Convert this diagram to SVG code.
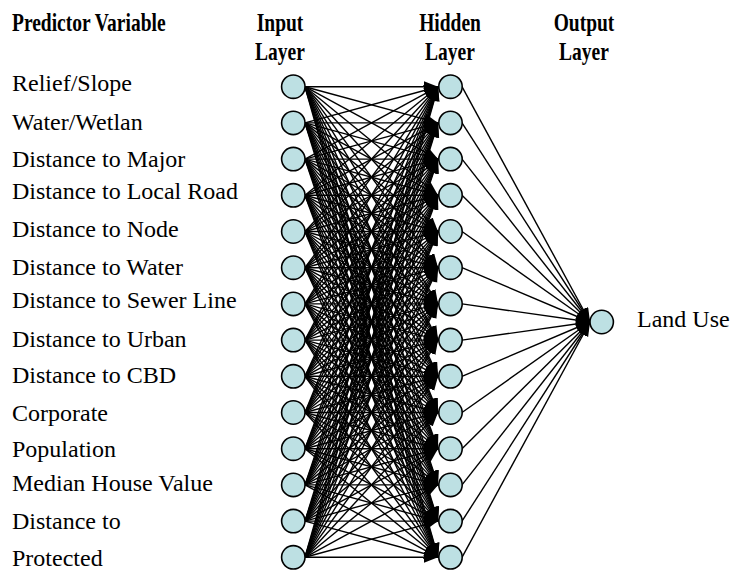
<svg xmlns="http://www.w3.org/2000/svg" width="740" height="571" viewBox="0 0 740 571">
<style>
text{font-family:"Liberation Serif","Times New Roman",serif;fill:#000}
.hd{font-size:25px;font-weight:bold}
.lb{font-size:24px}
.nd{fill:#bde0e3;stroke:#000;stroke-width:1.6}
#connectors line{stroke:#000;stroke-width:1.4;marker-end:url(#ah)}
</style>
<defs>
<marker id="ah" markerUnits="userSpaceOnUse" markerWidth="15" markerHeight="12" refX="14" refY="5.5" orient="auto"><path d="M0,0 L14,5.5 L0,11 z" fill="#000"/></marker>
</defs>
<rect width="740" height="571" fill="#fff"/>
<g id="headers">
<text class="hd" transform="translate(12,31) scale(0.78,1)">Predictor Variable</text>
<text class="hd" transform="translate(280,31) scale(0.78,1)" text-anchor="middle">Input</text>
<text class="hd" transform="translate(280,60) scale(0.78,1)" text-anchor="middle">Layer</text>
<text class="hd" transform="translate(450,31) scale(0.78,1)" text-anchor="middle">Hidden</text>
<text class="hd" transform="translate(450,60) scale(0.78,1)" text-anchor="middle">Layer</text>
<text class="hd" transform="translate(584,31) scale(0.78,1)" text-anchor="middle">Output</text>
<text class="hd" transform="translate(584,60) scale(0.78,1)" text-anchor="middle">Layer</text>
</g>
<g id="connectors">
<line x1="305" y1="86.7" x2="438" y2="86.7"/><line x1="305" y1="86.7" x2="438" y2="122.9"/><line x1="305" y1="86.7" x2="438" y2="159.1"/><line x1="305" y1="86.7" x2="438" y2="195.3"/><line x1="305" y1="86.7" x2="438" y2="231.5"/><line x1="305" y1="86.7" x2="438" y2="267.7"/><line x1="305" y1="86.7" x2="438" y2="303.9"/><line x1="305" y1="86.7" x2="438" y2="340.1"/><line x1="305" y1="86.7" x2="438" y2="376.3"/><line x1="305" y1="86.7" x2="438" y2="412.5"/><line x1="305" y1="86.7" x2="438" y2="448.7"/><line x1="305" y1="86.7" x2="438" y2="484.9"/><line x1="305" y1="86.7" x2="438" y2="521.1"/><line x1="305" y1="86.7" x2="438" y2="557.3"/>
<line x1="305" y1="122.9" x2="438" y2="86.7"/><line x1="305" y1="122.9" x2="438" y2="122.9"/><line x1="305" y1="122.9" x2="438" y2="159.1"/><line x1="305" y1="122.9" x2="438" y2="195.3"/><line x1="305" y1="122.9" x2="438" y2="231.5"/><line x1="305" y1="122.9" x2="438" y2="267.7"/><line x1="305" y1="122.9" x2="438" y2="303.9"/><line x1="305" y1="122.9" x2="438" y2="340.1"/><line x1="305" y1="122.9" x2="438" y2="376.3"/><line x1="305" y1="122.9" x2="438" y2="412.5"/><line x1="305" y1="122.9" x2="438" y2="448.7"/><line x1="305" y1="122.9" x2="438" y2="484.9"/><line x1="305" y1="122.9" x2="438" y2="521.1"/><line x1="305" y1="122.9" x2="438" y2="557.3"/>
<line x1="305" y1="159.1" x2="438" y2="86.7"/><line x1="305" y1="159.1" x2="438" y2="122.9"/><line x1="305" y1="159.1" x2="438" y2="159.1"/><line x1="305" y1="159.1" x2="438" y2="195.3"/><line x1="305" y1="159.1" x2="438" y2="231.5"/><line x1="305" y1="159.1" x2="438" y2="267.7"/><line x1="305" y1="159.1" x2="438" y2="303.9"/><line x1="305" y1="159.1" x2="438" y2="340.1"/><line x1="305" y1="159.1" x2="438" y2="376.3"/><line x1="305" y1="159.1" x2="438" y2="412.5"/><line x1="305" y1="159.1" x2="438" y2="448.7"/><line x1="305" y1="159.1" x2="438" y2="484.9"/><line x1="305" y1="159.1" x2="438" y2="521.1"/><line x1="305" y1="159.1" x2="438" y2="557.3"/>
<line x1="305" y1="195.3" x2="438" y2="86.7"/><line x1="305" y1="195.3" x2="438" y2="122.9"/><line x1="305" y1="195.3" x2="438" y2="159.1"/><line x1="305" y1="195.3" x2="438" y2="195.3"/><line x1="305" y1="195.3" x2="438" y2="231.5"/><line x1="305" y1="195.3" x2="438" y2="267.7"/><line x1="305" y1="195.3" x2="438" y2="303.9"/><line x1="305" y1="195.3" x2="438" y2="340.1"/><line x1="305" y1="195.3" x2="438" y2="376.3"/><line x1="305" y1="195.3" x2="438" y2="412.5"/><line x1="305" y1="195.3" x2="438" y2="448.7"/><line x1="305" y1="195.3" x2="438" y2="484.9"/><line x1="305" y1="195.3" x2="438" y2="521.1"/><line x1="305" y1="195.3" x2="438" y2="557.3"/>
<line x1="305" y1="231.5" x2="438" y2="86.7"/><line x1="305" y1="231.5" x2="438" y2="122.9"/><line x1="305" y1="231.5" x2="438" y2="159.1"/><line x1="305" y1="231.5" x2="438" y2="195.3"/><line x1="305" y1="231.5" x2="438" y2="231.5"/><line x1="305" y1="231.5" x2="438" y2="267.7"/><line x1="305" y1="231.5" x2="438" y2="303.9"/><line x1="305" y1="231.5" x2="438" y2="340.1"/><line x1="305" y1="231.5" x2="438" y2="376.3"/><line x1="305" y1="231.5" x2="438" y2="412.5"/><line x1="305" y1="231.5" x2="438" y2="448.7"/><line x1="305" y1="231.5" x2="438" y2="484.9"/><line x1="305" y1="231.5" x2="438" y2="521.1"/><line x1="305" y1="231.5" x2="438" y2="557.3"/>
<line x1="305" y1="267.7" x2="438" y2="86.7"/><line x1="305" y1="267.7" x2="438" y2="122.9"/><line x1="305" y1="267.7" x2="438" y2="159.1"/><line x1="305" y1="267.7" x2="438" y2="195.3"/><line x1="305" y1="267.7" x2="438" y2="231.5"/><line x1="305" y1="267.7" x2="438" y2="267.7"/><line x1="305" y1="267.7" x2="438" y2="303.9"/><line x1="305" y1="267.7" x2="438" y2="340.1"/><line x1="305" y1="267.7" x2="438" y2="376.3"/><line x1="305" y1="267.7" x2="438" y2="412.5"/><line x1="305" y1="267.7" x2="438" y2="448.7"/><line x1="305" y1="267.7" x2="438" y2="484.9"/><line x1="305" y1="267.7" x2="438" y2="521.1"/><line x1="305" y1="267.7" x2="438" y2="557.3"/>
<line x1="305" y1="303.9" x2="438" y2="86.7"/><line x1="305" y1="303.9" x2="438" y2="122.9"/><line x1="305" y1="303.9" x2="438" y2="159.1"/><line x1="305" y1="303.9" x2="438" y2="195.3"/><line x1="305" y1="303.9" x2="438" y2="231.5"/><line x1="305" y1="303.9" x2="438" y2="267.7"/><line x1="305" y1="303.9" x2="438" y2="303.9"/><line x1="305" y1="303.9" x2="438" y2="340.1"/><line x1="305" y1="303.9" x2="438" y2="376.3"/><line x1="305" y1="303.9" x2="438" y2="412.5"/><line x1="305" y1="303.9" x2="438" y2="448.7"/><line x1="305" y1="303.9" x2="438" y2="484.9"/><line x1="305" y1="303.9" x2="438" y2="521.1"/><line x1="305" y1="303.9" x2="438" y2="557.3"/>
<line x1="305" y1="340.1" x2="438" y2="86.7"/><line x1="305" y1="340.1" x2="438" y2="122.9"/><line x1="305" y1="340.1" x2="438" y2="159.1"/><line x1="305" y1="340.1" x2="438" y2="195.3"/><line x1="305" y1="340.1" x2="438" y2="231.5"/><line x1="305" y1="340.1" x2="438" y2="267.7"/><line x1="305" y1="340.1" x2="438" y2="303.9"/><line x1="305" y1="340.1" x2="438" y2="340.1"/><line x1="305" y1="340.1" x2="438" y2="376.3"/><line x1="305" y1="340.1" x2="438" y2="412.5"/><line x1="305" y1="340.1" x2="438" y2="448.7"/><line x1="305" y1="340.1" x2="438" y2="484.9"/><line x1="305" y1="340.1" x2="438" y2="521.1"/><line x1="305" y1="340.1" x2="438" y2="557.3"/>
<line x1="305" y1="376.3" x2="438" y2="86.7"/><line x1="305" y1="376.3" x2="438" y2="122.9"/><line x1="305" y1="376.3" x2="438" y2="159.1"/><line x1="305" y1="376.3" x2="438" y2="195.3"/><line x1="305" y1="376.3" x2="438" y2="231.5"/><line x1="305" y1="376.3" x2="438" y2="267.7"/><line x1="305" y1="376.3" x2="438" y2="303.9"/><line x1="305" y1="376.3" x2="438" y2="340.1"/><line x1="305" y1="376.3" x2="438" y2="376.3"/><line x1="305" y1="376.3" x2="438" y2="412.5"/><line x1="305" y1="376.3" x2="438" y2="448.7"/><line x1="305" y1="376.3" x2="438" y2="484.9"/><line x1="305" y1="376.3" x2="438" y2="521.1"/><line x1="305" y1="376.3" x2="438" y2="557.3"/>
<line x1="305" y1="412.5" x2="438" y2="86.7"/><line x1="305" y1="412.5" x2="438" y2="122.9"/><line x1="305" y1="412.5" x2="438" y2="159.1"/><line x1="305" y1="412.5" x2="438" y2="195.3"/><line x1="305" y1="412.5" x2="438" y2="231.5"/><line x1="305" y1="412.5" x2="438" y2="267.7"/><line x1="305" y1="412.5" x2="438" y2="303.9"/><line x1="305" y1="412.5" x2="438" y2="340.1"/><line x1="305" y1="412.5" x2="438" y2="376.3"/><line x1="305" y1="412.5" x2="438" y2="412.5"/><line x1="305" y1="412.5" x2="438" y2="448.7"/><line x1="305" y1="412.5" x2="438" y2="484.9"/><line x1="305" y1="412.5" x2="438" y2="521.1"/><line x1="305" y1="412.5" x2="438" y2="557.3"/>
<line x1="305" y1="448.7" x2="438" y2="86.7"/><line x1="305" y1="448.7" x2="438" y2="122.9"/><line x1="305" y1="448.7" x2="438" y2="159.1"/><line x1="305" y1="448.7" x2="438" y2="195.3"/><line x1="305" y1="448.7" x2="438" y2="231.5"/><line x1="305" y1="448.7" x2="438" y2="267.7"/><line x1="305" y1="448.7" x2="438" y2="303.9"/><line x1="305" y1="448.7" x2="438" y2="340.1"/><line x1="305" y1="448.7" x2="438" y2="376.3"/><line x1="305" y1="448.7" x2="438" y2="412.5"/><line x1="305" y1="448.7" x2="438" y2="448.7"/><line x1="305" y1="448.7" x2="438" y2="484.9"/><line x1="305" y1="448.7" x2="438" y2="521.1"/><line x1="305" y1="448.7" x2="438" y2="557.3"/>
<line x1="305" y1="484.9" x2="438" y2="86.7"/><line x1="305" y1="484.9" x2="438" y2="122.9"/><line x1="305" y1="484.9" x2="438" y2="159.1"/><line x1="305" y1="484.9" x2="438" y2="195.3"/><line x1="305" y1="484.9" x2="438" y2="231.5"/><line x1="305" y1="484.9" x2="438" y2="267.7"/><line x1="305" y1="484.9" x2="438" y2="303.9"/><line x1="305" y1="484.9" x2="438" y2="340.1"/><line x1="305" y1="484.9" x2="438" y2="376.3"/><line x1="305" y1="484.9" x2="438" y2="412.5"/><line x1="305" y1="484.9" x2="438" y2="448.7"/><line x1="305" y1="484.9" x2="438" y2="484.9"/><line x1="305" y1="484.9" x2="438" y2="521.1"/><line x1="305" y1="484.9" x2="438" y2="557.3"/>
<line x1="305" y1="521.1" x2="438" y2="86.7"/><line x1="305" y1="521.1" x2="438" y2="122.9"/><line x1="305" y1="521.1" x2="438" y2="159.1"/><line x1="305" y1="521.1" x2="438" y2="195.3"/><line x1="305" y1="521.1" x2="438" y2="231.5"/><line x1="305" y1="521.1" x2="438" y2="267.7"/><line x1="305" y1="521.1" x2="438" y2="303.9"/><line x1="305" y1="521.1" x2="438" y2="340.1"/><line x1="305" y1="521.1" x2="438" y2="376.3"/><line x1="305" y1="521.1" x2="438" y2="412.5"/><line x1="305" y1="521.1" x2="438" y2="448.7"/><line x1="305" y1="521.1" x2="438" y2="484.9"/><line x1="305" y1="521.1" x2="438" y2="521.1"/><line x1="305" y1="521.1" x2="438" y2="557.3"/>
<line x1="305" y1="557.3" x2="438" y2="86.7"/><line x1="305" y1="557.3" x2="438" y2="122.9"/><line x1="305" y1="557.3" x2="438" y2="159.1"/><line x1="305" y1="557.3" x2="438" y2="195.3"/><line x1="305" y1="557.3" x2="438" y2="231.5"/><line x1="305" y1="557.3" x2="438" y2="267.7"/><line x1="305" y1="557.3" x2="438" y2="303.9"/><line x1="305" y1="557.3" x2="438" y2="340.1"/><line x1="305" y1="557.3" x2="438" y2="376.3"/><line x1="305" y1="557.3" x2="438" y2="412.5"/><line x1="305" y1="557.3" x2="438" y2="448.7"/><line x1="305" y1="557.3" x2="438" y2="484.9"/><line x1="305" y1="557.3" x2="438" y2="521.1"/><line x1="305" y1="557.3" x2="438" y2="557.3"/>
<line x1="462" y1="86.7" x2="590" y2="322"/><line x1="462" y1="122.9" x2="590" y2="322"/><line x1="462" y1="159.1" x2="590" y2="322"/><line x1="462" y1="195.3" x2="590" y2="322"/><line x1="462" y1="231.5" x2="590" y2="322"/><line x1="462" y1="267.7" x2="590" y2="322"/><line x1="462" y1="303.9" x2="590" y2="322"/><line x1="462" y1="340.1" x2="590" y2="322"/><line x1="462" y1="376.3" x2="590" y2="322"/><line x1="462" y1="412.5" x2="590" y2="322"/><line x1="462" y1="448.7" x2="590" y2="322"/><line x1="462" y1="484.9" x2="590" y2="322"/><line x1="462" y1="521.1" x2="590" y2="322"/><line x1="462" y1="557.3" x2="590" y2="322"/>
</g>
<g id="input-nodes">
<g id="in1"><circle class="nd" cx="293.3" cy="86.7" r="11.7"/><text class="lb" x="12" y="91">Relief/Slope</text></g>
<g id="in2"><circle class="nd" cx="293.3" cy="122.9" r="11.7"/><text class="lb" x="12" y="130">Water/Wetlan</text></g>
<g id="in3"><circle class="nd" cx="293.3" cy="159.1" r="11.7"/><text class="lb" x="12" y="166.7">Distance to Major</text></g>
<g id="in4"><circle class="nd" cx="293.3" cy="195.3" r="11.7"/><text class="lb" x="12" y="199.3">Distance to Local Road</text></g>
<g id="in5"><circle class="nd" cx="293.3" cy="231.5" r="11.7"/><text class="lb" x="12" y="236.7">Distance to Node</text></g>
<g id="in6"><circle class="nd" cx="293.3" cy="267.7" r="11.7"/><text class="lb" x="12" y="275">Distance to Water</text></g>
<g id="in7"><circle class="nd" cx="293.3" cy="303.9" r="11.7"/><text class="lb" x="12" y="308.3">Distance to Sewer Line</text></g>
<g id="in8"><circle class="nd" cx="293.3" cy="340.1" r="11.7"/><text class="lb" x="12" y="347.3">Distance to Urban</text></g>
<g id="in9"><circle class="nd" cx="293.3" cy="376.3" r="11.7"/><text class="lb" x="12" y="382.7">Distance to CBD</text></g>
<g id="in10"><circle class="nd" cx="293.3" cy="412.5" r="11.7"/><text class="lb" x="12" y="420.7">Corporate</text></g>
<g id="in11"><circle class="nd" cx="293.3" cy="448.7" r="11.7"/><text class="lb" x="12" y="456.7">Population</text></g>
<g id="in12"><circle class="nd" cx="293.3" cy="484.9" r="11.7"/><text class="lb" x="12" y="490.7">Median House Value</text></g>
<g id="in13"><circle class="nd" cx="293.3" cy="521.1" r="11.7"/><text class="lb" x="12" y="529.3">Distance to</text></g>
<g id="in14"><circle class="nd" cx="293.3" cy="557.3" r="11.7"/><text class="lb" x="12" y="566">Protected</text></g>
</g>
<g id="hidden-nodes">
<g id="h1"><circle class="nd" cx="450.5" cy="86.7" r="11.7"/></g>
<g id="h2"><circle class="nd" cx="450.5" cy="122.9" r="11.7"/></g>
<g id="h3"><circle class="nd" cx="450.5" cy="159.1" r="11.7"/></g>
<g id="h4"><circle class="nd" cx="450.5" cy="195.3" r="11.7"/></g>
<g id="h5"><circle class="nd" cx="450.5" cy="231.5" r="11.7"/></g>
<g id="h6"><circle class="nd" cx="450.5" cy="267.7" r="11.7"/></g>
<g id="h7"><circle class="nd" cx="450.5" cy="303.9" r="11.7"/></g>
<g id="h8"><circle class="nd" cx="450.5" cy="340.1" r="11.7"/></g>
<g id="h9"><circle class="nd" cx="450.5" cy="376.3" r="11.7"/></g>
<g id="h10"><circle class="nd" cx="450.5" cy="412.5" r="11.7"/></g>
<g id="h11"><circle class="nd" cx="450.5" cy="448.7" r="11.7"/></g>
<g id="h12"><circle class="nd" cx="450.5" cy="484.9" r="11.7"/></g>
<g id="h13"><circle class="nd" cx="450.5" cy="521.1" r="11.7"/></g>
<g id="h14"><circle class="nd" cx="450.5" cy="557.3" r="11.7"/></g>
</g>
<g id="output-node"><circle class="nd" cx="601.7" cy="322" r="11.7"/><text class="lb" x="637" y="326.7">Land Use</text></g>
</svg>
